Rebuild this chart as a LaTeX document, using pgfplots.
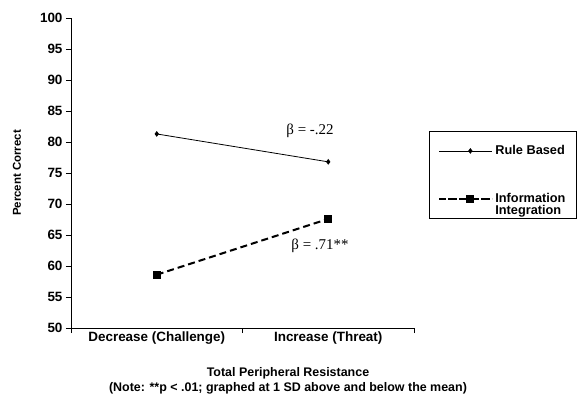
\documentclass[border=0pt]{standalone}
\usepackage{pgfplots}
\pgfplotsset{compat=1.18}
\usepackage{fontspec}
\setmainfont{Liberation Sans}
\newfontfamily\serif{Liberation Serif}
\begin{document}
\begin{tikzpicture}[x=1bp,y=1bp]
\begin{axis}[
  at={(71bp,-328bp)}, anchor=south west, scale only axis,
  width=343bp, height=310bp,
  xmin=0, xmax=2, ymin=50, ymax=100,
  axis lines*=left,
  axis line style={line width=0.8bp},
  tick align=outside, tick pos=left,
  major tick length=5bp,
  every tick/.style={black, line width=0.8bp},
  ytick={50,55,...,100},
  xtick={0,1,2}, xticklabels={},
  extra x ticks={0.5,1.5},
  extra x tick labels={Decrease (Challenge), Increase (Threat)},
  extra x tick style={major tick length=0pt},
  tick label style={font=\bfseries\fontsize{13.5}{15}\selectfont},
  /pgf/number format/assume math mode=true,
  clip=false,
  legend style={at={(rel axis cs:1.0437,0.635)}, anchor=north west,
    draw=black, line width=0.8bp, inner xsep=9bp, inner ysep=12bp,
    font=\bfseries\fontsize{12.8}{13.5}\selectfont,
    row sep=33bp},
  legend cell align=left,
  legend image code/.code={%
    \path (0bp,0bp) -- (53bp,0bp);
    \draw[#1] (9bp,0bp) -- (53bp,0bp);
    \draw[#1, solid] plot coordinates {(31bp,0bp)};},
]
\addplot[black, line width=0.8bp, mark=diamond*, mark size=2.2bp] coordinates {(0.5,81.3) (1.5,76.8)};
\addlegendentry{Rule Based}
\addplot[black, line width=2bp, dash pattern=on 7bp off 4bp, mark=square*, mark size=3bp, mark options={solid}] coordinates {(0.5,58.6) (1.5,67.6)};
\addlegendentry{\begin{tabular}[t]{@{}l@{}}Information\\[-2bp]Integration\rule[-5bp]{0pt}{1pt}\end{tabular}}
\node[font=\serif\fontsize{15}{17}\selectfont] at (axis cs:1.394,81.8) {β = -.22};
\node[font=\serif\fontsize{15}{17}\selectfont] at (axis cs:1.452,63.2) {β = .71**};
\end{axis}
\node[rotate=90, font=\bfseries\fontsize{11.5}{13}\selectfont] at (17bp,-173bp) {Percent Correct};
\node[font=\bfseries\fontsize{12.5}{14}\selectfont] at (288bp,-373bp) {Total Peripheral Resistance};
\node[font=\bfseries\fontsize{12.5}{14}\selectfont] at (288bp,-388bp) {(Note: **p < .01; graphed at 1 SD above and below the mean)};
\pgfresetboundingbox
\path[use as bounding box] (0bp,0bp) rectangle (578bp,-395bp);
\end{tikzpicture}
\end{document}
